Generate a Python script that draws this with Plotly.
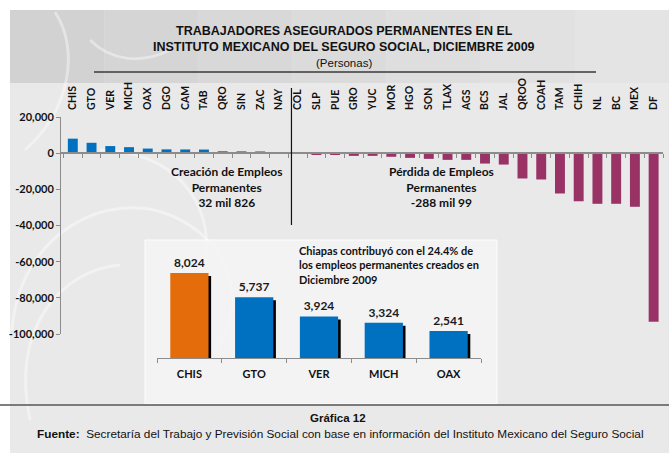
import plotly.graph_objects as go

W, H = 669, 453

# ---------------- data ----------------
states = ["CHIS", "GTO", "VER", "MICH", "OAX", "DGO", "CAM", "TAB", "QRO", "SIN", "ZAC", "NAY",
          "COL", "SLP", "PUE", "GRO", "YUC", "MOR", "HGO", "SON", "TLAX", "AGS", "BCS", "JAL",
          "QROO", "COAH", "TAM", "CHIH", "NL", "BC", "MEX", "DF"]
values = [8024, 5737, 3924, 3324, 2541, 2100, 2050, 2000, 1050, 1000, 950, 126,
          -99, -750, -750, -1500, -1500, -2000, -2600, -3150, -3700, -3700, -5750, -6300,
          -14000, -14550, -22300, -26600, -28000, -28000, -29650, -93200]
y_ticks = [20000, 0, -20000, -40000, -60000, -80000, -100000]
y_tick_text = ["20,000", "0", "-20,000", "-40,000", "-60,000", "-80,000", "-100,000"]

top_states = ["CHIS", "GTO", "VER", "MICH", "OAX"]
top_values = [8024, 5737, 3924, 3324, 2541]

BLUE = "#0070C0"
MAROON = "#993366"
ORANGE = "#E46C0A"

def px_x(x):
    return x / W

def px_y(y):
    return 1 - y / H

# main plot area (pixels)
MX0, MX1, MY_TOP, MY_BOT = 61, 663, 117, 334
Y_RANGE = [-100000, 20000]
X_RANGE = [-0.63, len(states) - 0.5]
main_ydom = [px_y(MY_BOT), px_y(MY_TOP)]
zero_pos = main_ydom[0] + (0 - Y_RANGE[0]) / (Y_RANGE[1] - Y_RANGE[0]) * (main_ydom[1] - main_ydom[0])

# inset area (pixels)
IX0, IX1, IY_BASE, IY_TOP = 157, 481, 358, 262.7
INSET_RANGE = [0, 9000]

colors = [BLUE if v >= 0 else MAROON for v in values]
top_colors = [ORANGE] + [BLUE] * (len(top_values) - 1)
shadow_vals = [v - 280 for v in top_values]

LATO = "Lato"
ARIAL = "Liberation Sans, Arial"

fig = go.Figure()

fig.add_trace(go.Bar(x=states, y=values, marker=dict(color=colors, line_width=0),
                     width=0.53, xaxis="x", yaxis="y", hoverinfo="x+y"))

# inset: shadow + bars
fig.add_trace(go.Bar(x=top_states, y=shadow_vals, marker=dict(color="#000000", line_width=0),
                     width=0.59, offset=-0.295 + 0.04, xaxis="x4", yaxis="y4", hoverinfo="skip"))
fig.add_trace(go.Bar(x=top_states, y=top_values, marker=dict(color=top_colors, line_width=0),
                     width=0.59, offset=-0.295, xaxis="x4", yaxis="y4",
                     text=[f"{v:,}" for v in top_values], textposition="outside",
                     textfont=dict(family=LATO, size=12, color="#1a1a1a", weight="bold"),
                     cliponaxis=False, hoverinfo="x+y"))

shapes = []
# background
shapes.append(dict(type="rect", xref="paper", yref="paper", x0=px_x(10), x1=1, y0=0, y1=px_y(10),
                   fillcolor="#E9E9EA", line_width=0, layer="below"))
band_cols = ["#D2D2D2", "#D5D5D5", "#D8D8D8", "#DBDBDB", "#DEDEDE", "#E1E1E1", "#E4E4E4"]
n = len(band_cols)
for i, c in enumerate(band_cols):
    x0 = 10 + (W - 10) * i / n
    x1 = 10 + (W - 10) * (i + 1) / n
    shapes.append(dict(type="rect", xref="paper", yref="paper", x0=px_x(x0), x1=px_x(x1),
                       y0=px_y(83), y1=px_y(10), fillcolor=c, line_width=0, layer="below"))

# decorative swirls (pixel control points -> paper)
def swirl_path(cmds):
    out = []
    for cmd, pts in cmds:
        out.append(cmd + " " + " ".join(f"{px_x(x):.5f},{px_y(y):.5f}" for x, y in pts))
    return " ".join(out)

swirls = [
    [("M", [(12, 330)]), ("C", [(20, 230), (110, 190), (170, 215)]), ("C", [(230, 240), (250, 300), (215, 350)])],
    [("M", [(30, 420)]), ("C", [(10, 330), (60, 270), (120, 265)])],
    [("M", [(55, 12)]), ("C", [(80, 50), (70, 110), (25, 150)])],
    [("M", [(90, 40)]), ("C", [(110, 60), (140, 65), (170, 50)])],
    [("M", [(100, 150)]), ("C", [(170, 150), (215, 200), (205, 260)])],
]
for s in swirls:
    shapes.append(dict(type="path", xref="paper", yref="paper", layer="below",
                       path=swirl_path(s), line=dict(color="rgba(255,255,255,0.4)", width=3)))

# inset box
shapes.append(dict(type="rect", xref="paper", yref="paper", x0=px_x(145), x1=px_x(497),
                   y0=px_y(404), y1=px_y(240), fillcolor="rgba(245,245,246,0.85)",
                   line=dict(color="rgba(255,255,255,0.9)", width=1), layer="below"))
# line above category labels
shapes.append(dict(type="line", xref="paper", yref="paper", x0=px_x(94), x1=px_x(596),
                   y0=px_y(72), y1=px_y(72), line=dict(color="#3a3a3a", width=1.5)))
# separator between creation / loss
shapes.append(dict(type="line", xref="x3", yref="paper", x0=11.67, x1=11.67,
                   y0=px_y(225), y1=px_y(88), line=dict(color="#111111", width=1.2)))
# footer separator
shapes.append(dict(type="line", xref="paper", yref="paper", x0=0, x1=1,
                   y0=px_y(405), y1=px_y(405), line=dict(color="#555555", width=1.5)))

ann = []
def txt(x, y, s, size, family=ARIAL, bold=True, align="center", xanchor="center", color="#111111"):
    ann.append(dict(x=px_x(x), y=px_y(y), xref="paper", yref="paper", text=(f"<b>{s}</b>" if bold else s),
                    showarrow=False, xanchor=xanchor, yanchor="middle", align=align,
                    font=dict(family=family, size=size, color=color)))

txt(344, 31, "TRABAJADORES ASEGURADOS PERMANENTES EN EL", 12.5)
txt(344, 47, "INSTITUTO MEXICANO DEL SEGURO SOCIAL, DICIEMBRE 2009", 12.5)
txt(344, 63, "(Personas)", 11.5, bold=False)
txt(226, 187, "Creación de Empleos<br>Permanentes<br>32 mil 826", 12, family=LATO)
txt(441, 187, "Pérdida de Empleos<br>Permanentes<br>-288 mil 99", 12, family=LATO)
txt(297, 265, "Chiapas contribuyó con el 24.4% de<br>los empleos permanentes creados en<br>Diciembre 2009",
    11, family=LATO, align="left", xanchor="left")
txt(338, 418, "Gráfica 12", 11.5)
txt(340, 434, "<b>Fuente:</b>  Secretaría del Trabajo y Previsión Social con base en información del Instituto Mexicano del Seguro Social",
    11.8, bold=False)

tick_font = dict(family=LATO, size=11, color="#111111", weight="bold")

fig.update_layout(
    width=W, height=H,
    margin=dict(l=0, r=0, t=0, b=0),
    paper_bgcolor="#FFFFFF", plot_bgcolor="rgba(0,0,0,0)",
    showlegend=False, barmode="overlay",
    shapes=shapes, annotations=ann,
    xaxis=dict(domain=[px_x(MX0), px_x(MX1)], anchor="y", side="top", type="category",
               categoryorder="array", categoryarray=states, range=X_RANGE,
               showline=False, ticks="", tickangle=-90, showgrid=False, zeroline=False,
               tickfont=dict(family=LATO, size=10.5, color="#111111", weight="bold"),
               ticklabelstandoff=6, automargin=False),
    yaxis=dict(domain=main_ydom, anchor="x", range=Y_RANGE, tickvals=y_ticks, ticktext=y_tick_text,
               showline=True, linecolor="#8c8c8c", linewidth=1, ticks="outside", ticklen=4,
               tickcolor="#8c8c8c", showgrid=False, zeroline=False,
               tickfont=tick_font, automargin=False),
    xaxis3=dict(domain=[px_x(MX0), px_x(MX1)], overlaying="x", anchor="free", position=zero_pos,
                type="linear", range=X_RANGE, showline=True, linecolor="#8c8c8c", linewidth=1.5,
                ticks="outside", ticklen=4, tickcolor="#8c8c8c",
                tickvals=[i - 0.5 for i in range(len(states) + 1)], showticklabels=False,
                showgrid=False, zeroline=False, automargin=False),
    xaxis4=dict(domain=[px_x(IX0), px_x(IX1)], anchor="y4", type="category",
                showline=True, linecolor="#8c8c8c", linewidth=1.2, ticks="outside", ticklen=4,
                tickcolor="#8c8c8c", tickson="boundaries", showgrid=False, zeroline=False,
                tickfont=tick_font, ticklabelstandoff=6, automargin=False),
    yaxis4=dict(domain=[px_y(IY_BASE), px_y(IY_TOP)], anchor="x4", range=INSET_RANGE,
                visible=False, showgrid=False, zeroline=False),
)

fig.write_html("out.html", config={"displayModeBar": False},
               post_script="document.body.style.margin='0';")
